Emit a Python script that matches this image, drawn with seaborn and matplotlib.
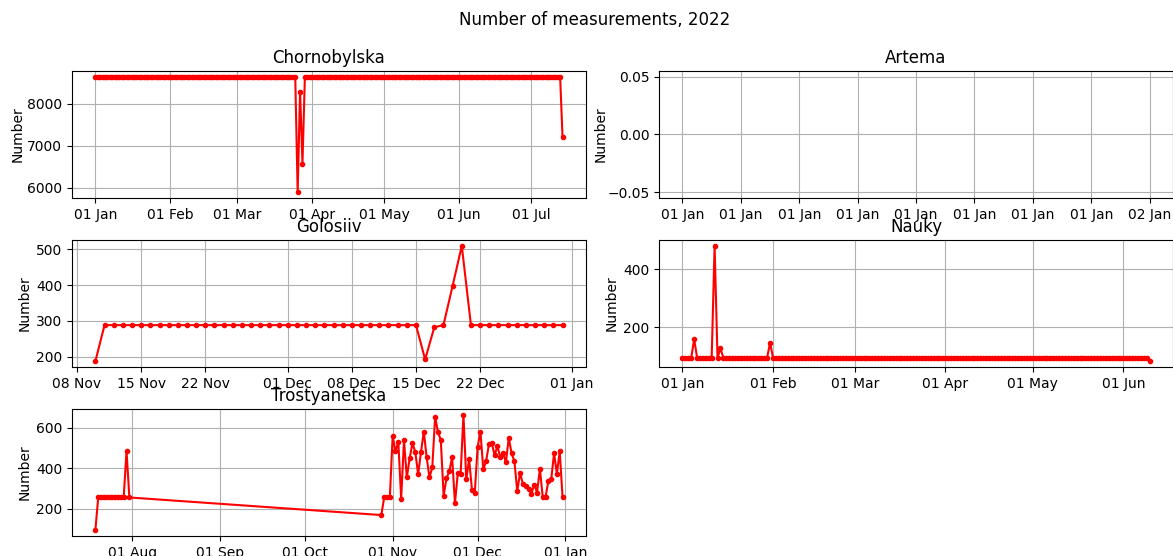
"""Daily number of measurements per station, 2022."""

import numpy as np
import pandas as pd
import matplotlib
matplotlib.use("Agg")
import matplotlib.pyplot as plt
import matplotlib.dates as mdates
import seaborn as sns

# Runs of (first day, last day, value)
chornobylska_runs = [
    ("2022-01-01", "2022-03-25", 8640),
    ("2022-03-26", "2022-03-26", 5900),
    ("2022-03-27", "2022-03-27", 8280),
    ("2022-03-28", "2022-03-28", 6580),
    ("2022-03-29", "2022-07-13", 8640),
    ("2022-07-14", "2022-07-14", 7200),
]

# Artema has no data at all
artema_runs = []

golosiiv_runs = [
    ("2022-11-10", "2022-11-10", 187),
    ("2022-11-11", "2022-12-15", 288),
    ("2022-12-16", "2022-12-16", 192),
    ("2022-12-17", "2022-12-17", 282),
    ("2022-12-18", "2022-12-18", 288),
    ("2022-12-19", "2022-12-19", 398),
    ("2022-12-20", "2022-12-20", 510),
    ("2022-12-21", "2022-12-31", 288),
]

nauky_runs = [
    ("2022-01-01", "2022-01-04", 96),
    ("2022-01-05", "2022-01-05", 160),
    ("2022-01-06", "2022-01-11", 96),
    ("2022-01-12", "2022-01-12", 480),
    ("2022-01-13", "2022-01-13", 96),
    ("2022-01-14", "2022-01-14", 128),
    ("2022-01-15", "2022-01-30", 96),
    ("2022-01-31", "2022-01-31", 148),
    ("2022-02-01", "2022-06-09", 96),
    ("2022-06-10", "2022-06-10", 84),
]

trostyanetska_runs = [
    ("2022-07-19", "2022-07-19", 94),
    ("2022-07-20", "2022-07-29", 256),
    ("2022-07-30", "2022-07-30", 487),
    ("2022-07-31", "2022-07-31", 256),
    ("2022-10-28", "2022-10-28", 169),
    ("2022-10-29", "2022-10-31", 256),
]
# one value per day, 01 Nov .. 31 Dec
trostyanetska_nov_dec = [
    560, 485, 530, 250, 538, 355, 450, 525, 480, 370,
    480, 582, 455, 355, 405, 655, 580, 540, 265, 350,
    385, 455, 228, 375, 370, 665, 345, 445, 295, 278,
    505, 582, 395, 435, 520, 525, 465, 510, 455, 475,
    430, 550, 475, 435, 288, 378, 322, 312, 300, 275,
    320, 280, 398, 258, 258, 338, 345, 475, 372, 485,
    258,
]

stations = ["Chornobylska", "Artema", "Golosiiv", "Nauky", "Trostyanetska"]
# the y label sits a bit closer to the wide tick labels in the original
label_pads = [1.5, 0.0, 3.0, 3.5, 3.0]


def expand_runs(runs):
    frames = [pd.DataFrame({"date": pd.date_range(start, end, freq="D"), "number": value})
              for start, end, value in runs]
    if not frames:
        return pd.DataFrame({"date": pd.Series([], dtype="datetime64[ns]"),
                             "number": pd.Series([], dtype=float)})
    return pd.concat(frames, ignore_index=True)


data = {
    "Chornobylska": expand_runs(chornobylska_runs),
    "Artema": expand_runs(artema_runs),
    "Golosiiv": expand_runs(golosiiv_runs),
    "Nauky": expand_runs(nauky_runs),
    "Trostyanetska": pd.concat([
        expand_runs(trostyanetska_runs),
        pd.DataFrame({"date": pd.date_range("2022-11-01", "2022-12-31", freq="D"),
                      "number": trostyanetska_nov_dec}),
    ], ignore_index=True),
}

fig = plt.figure(figsize=(11.73, 5.56), dpi=100)
axes = fig.subplots(3, 2)
fig.subplots_adjust(left=0.0614, right=1.0, bottom=0.036, top=0.8723,
                    wspace=0.1425, hspace=0.331)
axes[2, 1].remove()

for ax, name, pad in zip(axes.flat, stations, label_pads):
    df = data[name]
    if len(df):
        sns.lineplot(data=df, x="date", y="number", ax=ax, color="red",
                     marker=".", markeredgecolor="red", markeredgewidth=1.0)
    else:
        # empty station: still a date axis, like the original
        ax.plot(np.array([], dtype="datetime64[ns]"), np.array([]), color="red", marker=".")
    ax.xaxis.set_major_formatter(mdates.DateFormatter("%d %b"))
    ax.set_title(name)
    ax.set_xlabel("")
    ax.set_ylabel("Number", labelpad=pad)
    ax.grid(True)

fig.suptitle("Number of measurements, 2022", x=0.507)
fig.savefig("out.png", dpi=100)
plt.close(fig)
